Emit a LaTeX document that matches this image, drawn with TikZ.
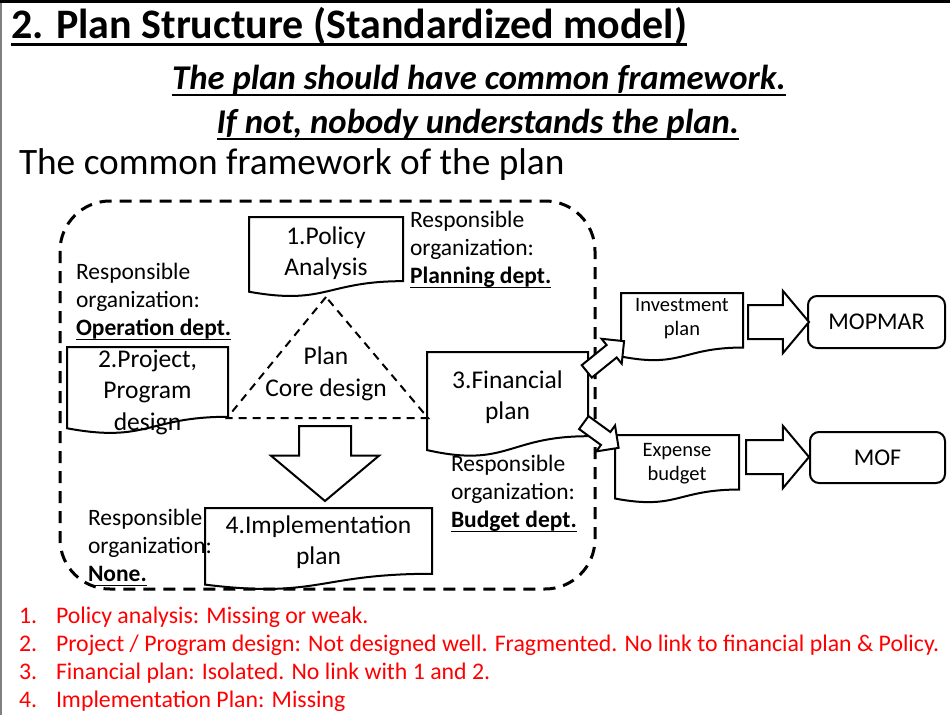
\documentclass[tikz,border=0pt]{standalone}
\usepackage{fontspec}
\setmainfont{Carlito}
\usepackage{xcolor}
\definecolor{listred}{HTML}{FF0000}
\definecolor{edgegray}{HTML}{808080}
\usetikzlibrary{shapes.arrows,calc,positioning}
% thickness, depth below baseline, text
\newcommand{\ulbar}[3]{\setbox0=\hbox{#3}\rlap{\rule[-#2]{\wd0}{#1}}\box0}

\begin{document}
\begin{tikzpicture}[x=1pt,y=-1pt,line width=2pt,line join=miter]
    \tikzstyle{doc}=[inner sep=0pt,align=center,anchor=north,font=\fontsize{25.5}{31.5}\selectfont]
    \tikzstyle{smalldoc}=[doc,font=\fontsize{20.5}{24}\selectfont]
    \tikzstyle{resp}=[inner sep=0pt,align=left,anchor=north west,font=\fontsize{23.5}{28.3}\selectfont]
    \tikzstyle{blockarrow}=[draw,fill=white,single arrow,single arrow head indent=0pt,inner xsep=0pt,anchor=tail]
    \tikzstyle{org}=[draw,rounded corners=9pt,inner sep=0pt,font=\fontsize{24}{28}\selectfont]
    \tikzstyle{frame}=[line width=3pt,dash pattern=on 12pt off 8pt]
    \tikzstyle{core}=[dash pattern=on 8pt off 6pt]
    \tikzstyle{item}=[inner sep=0pt,anchor=base west,text=listred,font=\fontsize{23.8}{28}\selectfont]

    \useasboundingbox (0,0) rectangle (950,715);
    \fill (0,0) rectangle (950,3);
    \fill[edgegray] (0,3) rectangle (1.5,715);

    % headings
    \node[inner sep=0pt,anchor=base west,font=\fontsize{42}{46}\bfseries] (title) at (10,38)
        {\ulbar{3pt}{8pt}{2. Plan Structure (Standardized model)}};
    \node[inner sep=0pt,anchor=base,font=\fontsize{34.7}{40}\bfseries\itshape] (sub1) at (479,89)
        {\ulbar{2pt}{7pt}{The plan should have common framework.}};
    \node[inner sep=0pt,anchor=base,font=\fontsize{34.7}{40}\bfseries\itshape] (sub2) at (478,133)
        {\ulbar{2pt}{7pt}{If not, nobody understands the plan.}};
    \node[inner sep=0pt,anchor=base west,font=\fontsize{37.3}{42}\selectfont] (common) at (18,174)
        {The common framework of the plan};

    % common framework
    \draw[frame,rounded corners=50pt] (60,201) rectangle (595,589);

    \node[doc,minimum width=152pt,minimum height=70pt]  (pol) at (326,217) {1.Policy\\Analysis};
    \node[doc,minimum width=159pt,minimum height=88pt]  (prj) at (147.5,347) {2.Project,\\Program\\design};
    \node[doc,minimum width=159pt,minimum height=88pt]  (fin) at (507.5,352) {3.Financial\\plan};
    \node[doc,minimum width=225pt,minimum height=66pt]  (imp) at (318.5,508) {4.Implementation\\plan};
    \node[smalldoc,minimum width=120pt,minimum height=50pt] (inv) at (682,293) {Investment\\plan};
    \node[smalldoc,minimum width=122pt,minimum height=56pt] (exp) at (677,435) {Expense\\budget};

    \foreach \d/\h in {pol/80,prj/87,fin/105,imp/82,inv/68,exp/68}
        \draw (\d.north west) -- (\d.north east) -- ++(0,0.802*\h)
            .. controls ($(\d.north)+(0,0.802*\h)$) and ($(\d.north)+(0,1.107*\h)$)
            .. ($(\d.north west)+(0,0.934*\h)$) -- cycle;

    \node[resp] (rpol) at (409,210) {Responsible\\organization:\\\textbf{\ulbar{1.5pt}{4.5pt}{Planning dept.}}};
    \node[resp] (rprj) at (75,262)  {Responsible\\organization:\\\textbf{\ulbar{1.5pt}{4.5pt}{Operation dept.}}};
    \node[resp] (rfin) at (450,454) {Responsible\\organization:\\\textbf{\ulbar{1.5pt}{4.5pt}{Budget dept.}}};
    \node[resp] (rimp) at (87,508)  {Responsible\\organization:\\\textbf{\ulbar{1.5pt}{4.5pt}{None.}}};

    % core triangle
    \coordinate (ctop) at (326,297);
    \coordinate (cleft) at (227,418);
    \coordinate (cright) at (428,418);
    \draw[core] (ctop) -- (cleft) -- (cright) -- cycle;
    \node[inner sep=0pt,align=center,font=\fontsize{25.5}{32}\selectfont] (core) at (326,374) {Plan\\Core design};

    % outputs
    \node[org,minimum width=137pt,minimum height=52pt] (mop) at (876.5,322) {MOPMAR};
    \node[org,minimum width=135pt,minimum height=51pt] (mof) at (877.5,457.5) {MOF};

    \node[blockarrow,rotate=-90,inner ysep=25pt,minimum height=75pt,single arrow head extend=28pt,single arrow tip angle=100] (down) at (325,425) {};
    \node[blockarrow,rotate=39,inner ysep=7pt,minimum height=48pt,single arrow head extend=8pt] (upinv) at (586,372) {};
    \node[blockarrow,rotate=-36,inner ysep=7pt,minimum height=43pt,single arrow head extend=8pt] (dnexp) at (583,422) {};
    \node[blockarrow,inner ysep=16pt,minimum height=61pt,single arrow head extend=14pt,single arrow tip angle=100] (tomop) at (747,322) {};
    \node[blockarrow,inner ysep=16pt,minimum height=63pt,single arrow head extend=14pt,single arrow tip angle=100] (tomof) at (745,457) {};

    % findings
    \foreach \t [count=\i] in {Policy analysis: Missing or weak.,
        Project / Program design: Not designed well. Fragmented. No link to financial plan \& Policy.,
        Financial plan: Isolated. No link with 1 and 2.,
        Implementation Plan: Missing}
    {
        \node[item] (n\i) at (18,595+28*\i) {\i.};
        \node[item] (l\i) at (55,595+28*\i) {\t};
    }
\end{tikzpicture}
\end{document}
